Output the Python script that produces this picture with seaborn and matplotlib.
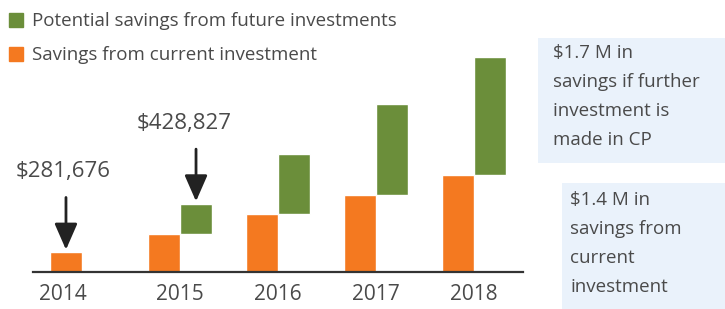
import numpy as np
import pandas as pd
import matplotlib
matplotlib.use("Agg")
import matplotlib.pyplot as plt
from matplotlib.patches import Rectangle
import seaborn as sns

# data
years = ["2014", "2015", "2016", "2017", "2018"]
current_savings = [281676, 550000, 840000, 1110000, 1400000]
future_savings = [0, 428827, 860000, 1310000, 1700000]

series_names = ["Savings from current investment", "Potential savings from future investments"]
callouts = ["$281,676", "$428,827"]

box_top_lines = ["$1.7 M in", "savings if further", "investment is", "made in CP"]
box_bottom_lines = ["$1.4 M in", "savings from", "current", "investment"]

ORANGE = "#F47920"
GREEN = "#6B8E3A"
BOX = "#EAF2FB"
TEXT = "#4a4a4a"

sns.set_style("white")
plt.rcParams["font.family"] = ["Open Sans", "DejaVu Sans"]

df = pd.DataFrame({
    "year": years * 2,
    "value": current_savings + future_savings,
    "series": [series_names[0]] * len(years) + [series_names[1]] * len(years),
})

W, H = 725, 309
fig = plt.figure(figsize=(W / 100, H / 100), dpi=100)
ax = fig.add_axes([33 / W, 37 / H, 490 / W, 242 / H])

sns.barplot(data=df, x="year", y="value", hue="series",
            palette=[ORANGE, GREEN], width=0.654, dodge=True,
            saturation=1, legend=False, ax=ax)

# float the green bars on top of the orange ones
orange_bars = ax.containers[0]
green_bars = ax.containers[1]
for bar, base in zip(green_bars, current_savings):
    bar.set_y(base)

ax.set_xlim(-0.5, len(years) - 0.5)
ax.set_ylim(0, 3.49e6)
ax.set_xlabel("")
ax.set_ylabel("")
ax.set_yticks([])

for side in ["top", "right", "left"]:
    ax.spines[side].set_visible(False)
ax.spines["bottom"].set_color("#333333")
ax.spines["bottom"].set_linewidth(1.6)

# group boundary ticks, labels without ticks
ax.set_xticks(np.arange(-0.5, len(years) + 0.5, 1), minor=True)
ax.tick_params(axis="x", which="minor", direction="out", length=5, width=1.4, color="#333333")
label_pos = [orange_bars[0].get_x() + orange_bars[0].get_width() / 2 - 0.03] + list(range(1, len(years)))
ax.set_xticks(label_pos)
ax.set_xticklabels(years)
ax.tick_params(axis="x", which="major", length=0, pad=9, labelsize=15, labelcolor=TEXT)

# callout arrows
targets = [(orange_bars[0], current_savings[0]), (green_bars[1], current_savings[1] + future_savings[1])]
text_dx = [-3, -12]
for (bar, top), label, dx in zip(targets, callouts, text_dx):
    xc = bar.get_x() + bar.get_width() / 2
    ax.annotate("", xy=(xc, top), xytext=(0, 55), textcoords="offset pixels",
                arrowprops=dict(arrowstyle="-|>,head_length=0.8,head_width=0.35",
                                color="#222222", lw=2, shrinkA=0, shrinkB=2,
                                mutation_scale=20))
    ax.annotate(label, xy=(xc, top), xytext=(dx, 81), textcoords="offset pixels",
                ha="center", va="center", fontsize=16, color=TEXT)

# legend
handles = [Rectangle((0, 0), 1, 1, color=GREEN), Rectangle((0, 0), 1, 1, color=ORANGE)]
fig.legend(handles, [series_names[1], series_names[0]], loc="upper left",
           bbox_to_anchor=(1 / W, 1 - 5 / H), frameon=False, fontsize=13.5,
           handlelength=0.78, handleheight=0.78, handletextpad=0.45,
           labelspacing=0.85, labelcolor=TEXT, borderaxespad=0)

# info boxes
fig.patches.append(Rectangle((538 / W, 1 - 163 / H), 187 / W, 125 / H,
                             transform=fig.transFigure, facecolor=BOX, edgecolor="none"))
fig.patches.append(Rectangle((562 / W, 0), 163 / W, 1 - 183 / H,
                             transform=fig.transFigure, facecolor=BOX, edgecolor="none"))
for i, line in enumerate(box_top_lines):
    fig.text(553 / W, 1 - (53 + 29 * i) / H, line, fontsize=13.5, color=TEXT, va="center")
for i, line in enumerate(box_bottom_lines):
    fig.text(570 / W, 1 - (200 + 29 * i) / H, line, fontsize=13.5, color=TEXT, va="center")

fig.savefig("out.png", dpi=100)
